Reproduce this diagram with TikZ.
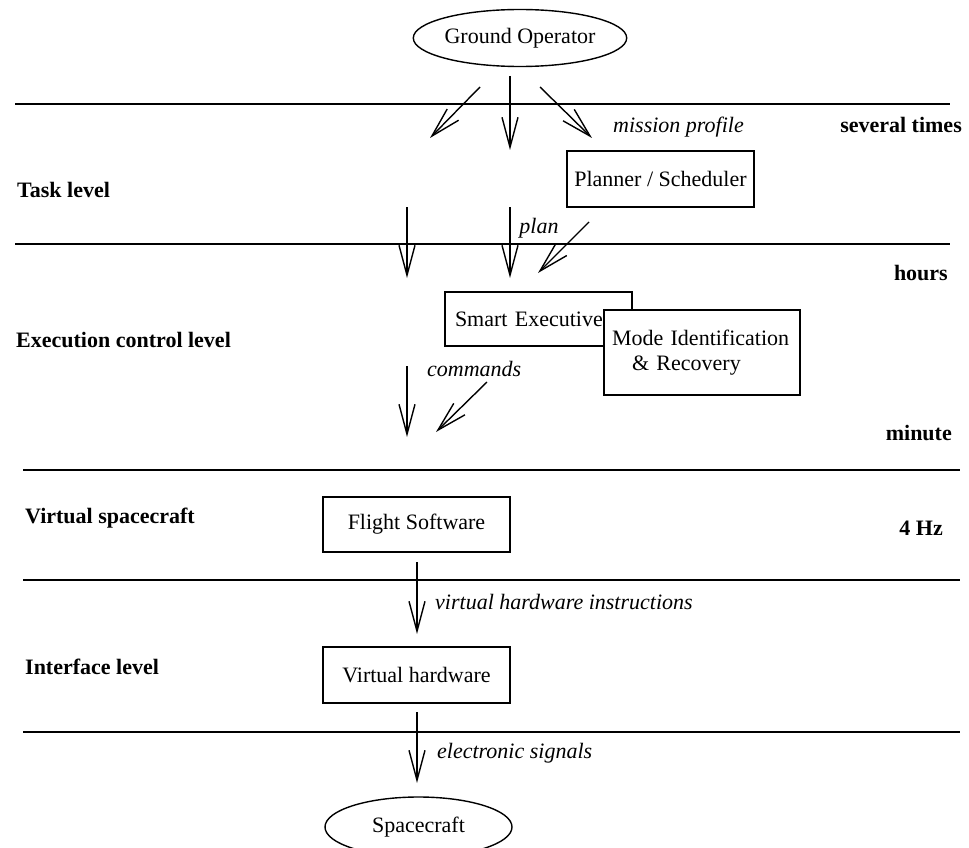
\documentclass[tikz,border=0pt]{standalone}
\usepackage{fontspec}
\setmainfont{Liberation Serif}
\usetikzlibrary{arrows.meta,shapes.geometric}

\tikzset{
  base/.style={font=\fontsize{22}{25}\selectfont},
  box/.style={base, draw, line width=1.4pt, fill=white, inner sep=0pt},
  oval/.style={base, draw, ellipse, line width=1.4pt, inner sep=0pt},
  levelname/.style={base, font=\fontsize{22}{25}\selectfont\bfseries, anchor=west, inner sep=0pt},
  ratename/.style={base, font=\fontsize{22}{25}\selectfont\bfseries, anchor=east, inner sep=0pt},
  flowlabel/.style={font=\fontsize{22}{25}\selectfont\itshape, inner sep=0pt},
  divider/.style={line width=1.4pt},
  flow/.style={line width=1.4pt, -{Straight Barb[length=30pt,width=16pt,line width=1.4pt]}}
}

\begin{document}
\begin{tikzpicture}[x=1pt,y=-1pt]
\useasboundingbox (0,0) rectangle (969,848);

% level dividers
\draw[divider] (15,104) -- (950,104);
\draw[divider] (15,244) -- (950,244);
\draw[divider] (23,470) -- (960,470);
\draw[divider] (23,580) -- (960,580);
\draw[divider] (23,732) -- (960,732);

% level names
\node[levelname] (ltask) at (17,190) {Task level};
\node[levelname] (lexec) at (16,340) {Execution control level};
\node[levelname] (lvirt) at (25,518) {Virtual spacecraft};
\node[levelname] (liface) at (25,667) {Interface level};

% time scales
\node[ratename] (rsev) at (962,125) {several times};
\node[ratename] (rhours) at (948,273) {hours};
\node[ratename] (rmin) at (952,433) {minute};
\node[ratename] (rhz) at (943,528) {4 Hz};

% components
\node[oval, minimum width=186pt, minimum height=57pt] (ground) at (520,38) {Ground Operator};
\node[box, minimum width=187pt, minimum height=56pt] (planner) at (660.5,179) {Planner / Scheduler};
\node[box, minimum width=187pt, minimum height=54pt, text width=167pt, align=left] (smart) at (538.5,319) {Smart Executive};
\node[box, minimum width=196pt, minimum height=85pt, text width=180pt, align=left] (mir) at (702,352.5)
  {Mode Identification\\\hspace*{20pt}\& Recovery};
\node[box, minimum width=187pt, minimum height=55pt] (flight) at (416.5,524.5) {Flight Software};
\node[box, minimum width=187pt, minimum height=56pt] (vhw) at (416.5,675) {Virtual hardware};
\node[oval, minimum width=187pt, minimum height=60pt] (craft) at (418.5,827) {Spacecraft};

% free ends of the flows
\coordinate (g1) at (480,87);
\coordinate (g2) at (510,76);
\coordinate (g3) at (540,87);
\coordinate (t1) at (430,138);
\coordinate (t2) at (510,150);
\coordinate (t3) at (592,138);
\coordinate (s1) at (407,207);
\coordinate (s2) at (510,207);
\coordinate (e1) at (407,278);
\coordinate (e2) at (510,278);
\coordinate (p1) at (589,222);
\coordinate (p2) at (538,273);
\coordinate (c1) at (407,366);
\coordinate (c2) at (407,437);
\coordinate (c3) at (487,382);
\coordinate (c4) at (436,432);
\coordinate (f1) at (417,562);
\coordinate (f2) at (417,634);
\coordinate (h1) at (417,712);
\coordinate (h2) at (417,783);

% flows
\draw[flow] (g1) -- (t1);
\draw[flow] (g2) -- (t2);
\draw[flow] (g3) -- (t3);
\draw[flow] (s1) -- (e1);
\draw[flow] (s2) -- (e2);
\draw[flow] (p1) -- (p2);
\draw[flow] (c1) -- (c2);
\draw[flow] (c3) -- (c4);
\draw[flow] (f1) -- (f2);
\draw[flow] (h1) -- (h2);

% flow labels
\node[flowlabel, anchor=west] (lmission) at (613,127) {mission profile};
\node[flowlabel] (lplan) at (539,228) {plan};
\node[flowlabel, anchor=west] (lcmd) at (427,369) {commands};
\node[flowlabel, anchor=west] (lvhi) at (435,602) {virtual hardware instructions};
\node[flowlabel, anchor=west] (lsig) at (437,753) {electronic signals};
\end{tikzpicture}
\end{document}
